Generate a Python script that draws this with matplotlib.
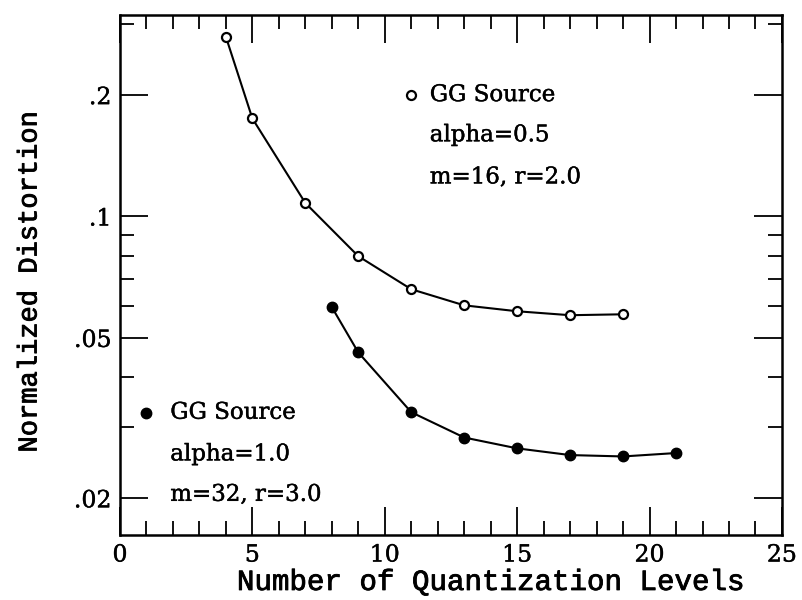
import matplotlib
matplotlib.use("Agg")
import matplotlib.pyplot as plt
import matplotlib.patheffects as pe
from matplotlib.ticker import FixedLocator, NullFormatter

# dados
niveis_a = [4, 5, 7, 9, 11, 13, 15, 17, 19]
dist_a = [0.279, 0.175, 0.108, 0.0797, 0.066, 0.0602, 0.0582, 0.0569, 0.0572]

niveis_b = [8, 9, 11, 13, 15, 17, 19, 21]
dist_b = [0.0596, 0.0460, 0.0327, 0.0283, 0.0266, 0.0256, 0.0254, 0.0259]

y_major = [0.02, 0.05, 0.1, 0.2]
y_major_labels = ['.02', '.05', '.1', '.2']
y_minor = [0.03, 0.04, 0.06, 0.07, 0.08, 0.09, 0.3]

plt.rcParams['font.family'] = ['DejaVu Serif']

# traco leve para engrossar o texto como no original escaneado
leve = [pe.withStroke(linewidth=0.3, foreground='black')]
medio = [pe.withStroke(linewidth=0.6, foreground='black')]

fig = plt.figure(figsize=(8.02, 6), dpi=100)
ax = fig.add_axes([0.1496, 0.108, 0.8254, 0.867])

ax.plot(niveis_a, dist_a, '-', color='black', linewidth=1.5,
        marker='o', markersize=6.5, markerfacecolor='white', markeredgewidth=1.6)
ax.plot(niveis_b, dist_b, '-', color='black', linewidth=1.5,
        marker='o', markersize=7.5, markerfacecolor='black')

ax.set_yscale('log')
ax.set_xlim(0, 25)
ax.set_ylim(0.0162, 0.316)

ax.set_xticks([0, 5, 10, 15, 20, 25])
ax.set_xticks(range(0, 26), minor=True)
ax.yaxis.set_major_locator(FixedLocator(y_major))
ax.yaxis.set_minor_locator(FixedLocator(y_minor))
ax.set_yticklabels(y_major_labels)
ax.yaxis.set_minor_formatter(NullFormatter())

ax.tick_params(which='both', direction='in', top=True, right=True, labelsize=17, width=1.3)
ax.tick_params(which='major', length=20, pad=6)
ax.tick_params(which='minor', length=10)
for s in ax.spines.values():
    s.set_linewidth(1.8)

# rotulos dos eixos com espacamento largo como no original
ax.set_xlabel('Number of Quantization Levels', fontsize=21, family='Liberation Mono')
ax.set_ylabel('Normalized Distortion', fontsize=19.5, family='Liberation Mono')
ax.xaxis.set_label_coords(0.56, -0.063)
ax.yaxis.set_label_coords(-0.117, 0.487)

# legendas escritas dentro do grafico
ax.plot([11.0], [0.2], 'o', color='black', markerfacecolor='white', markersize=6.5, markeredgewidth=1.6)
ax.text(11.7, 0.2, 'GG Source', fontsize=16.5, va='center')
ax.text(11.7, 0.159, 'alpha=0.5', fontsize=16.5, va='center')
ax.text(11.7, 0.125, 'm=16, r=2.0', fontsize=16.5, va='center')

ax.plot([1.0], [0.0326], 'o', color='black', markersize=7.5)
ax.text(1.9, 0.0326, 'GG Source', fontsize=16.5, va='center')
ax.text(1.9, 0.0257, 'alpha=1.0', fontsize=16.5, va='center')
ax.text(1.9, 0.0204, 'm=32, r=3.0', fontsize=16.5, va='center')

for t in ax.texts + ax.get_xticklabels() + ax.get_yticklabels():
    t.set_path_effects(leve)
for t in [ax.xaxis.label, ax.yaxis.label]:
    t.set_path_effects(medio)

plt.savefig("out.png", dpi=100)
